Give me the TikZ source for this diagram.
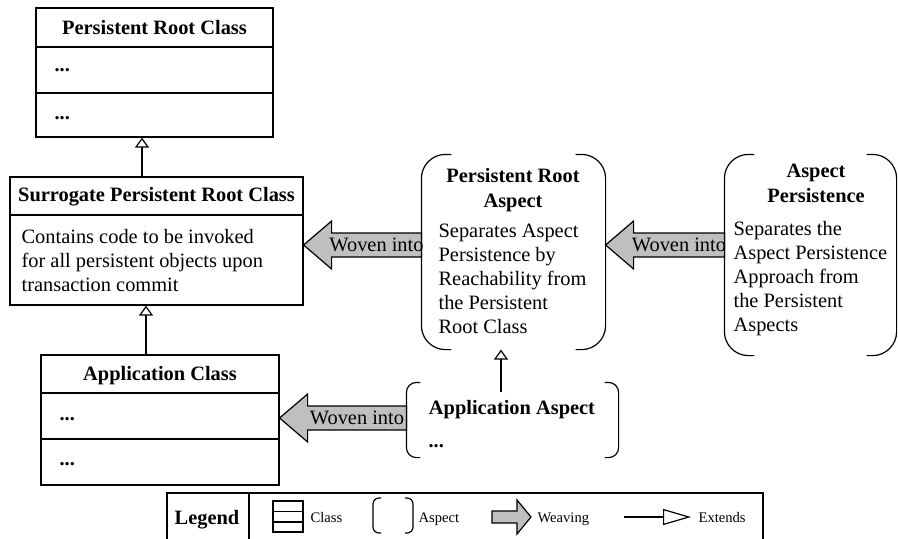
\documentclass[tikz,border=0pt]{standalone}
\usepackage{fontspec}
\setmainfont{Liberation Serif}
\usetikzlibrary{arrows.meta,calc}
\tikzset{
	classbox/.style={draw,inner sep=0pt},
	aspbox/.style={inner sep=0pt},
	ext/.style={-{Triangle[open,length=5pt,width=7pt]}},
	weave/.style={draw,fill=gray!50},
	txt/.style={inner sep=0pt,align=left,font=\fontsize{10.2}{12}\selectfont},
	ttl/.style={inner sep=0pt,align=center,font=\fontsize{10.2}{12.5}\selectfont\bfseries},
	lbl/.style={inner sep=0pt,font=\fontsize{7.3}{8.5}\selectfont}
}
\newcommand{\aspectframe}[3]{%
	\draw[rounded corners=#2] ([xshift=#3]#1.north west) -- (#1.north west) -- (#1.south west) -- ([xshift=#3]#1.south west);
	\draw[rounded corners=#2] ([xshift=-#3]#1.north east) -- (#1.north east) -- (#1.south east) -- ([xshift=-#3]#1.south east);}
\newcommand{\weave}[4]{%
	\coordinate (#4y) at (0,#3);
	\coordinate (#4t) at (#1.east |- #4y);
	\coordinate (#4s) at (#2.west |- #4y);
	\draw[weave] (#4t) -- ++(28,-24) -- ++(0,12) -- ($(#4s)+(0,-12)$) -- ($(#4s)+(0,12)$) -- ($(#4t)+(28,12)$) -- ($(#4t)+(28,24)$) -- cycle;
	\node[txt] (#4) at ($(#4t)!0.5!(#4s)+(14,0)$) {Woven into};}
\begin{document}
\begin{tikzpicture}[x=0.5pt,y=-0.5pt,line width=0.6pt]
			\useasboundingbox (0,0) rectangle (898,538);
			\node[classbox,minimum width=118.5pt,minimum height=64.5pt] (prc) at (154.5,72.5) {};
			\node[classbox,minimum width=146.5pt,minimum height=64pt] (surr) at (156.5,241) {};
			\node[classbox,minimum width=119pt,minimum height=65pt] (appc) at (160,420) {};
			\node[aspbox,minimum width=91.5pt,minimum height=97pt] (pra) at (513.5,252) {};
			\node[aspbox,minimum width=85.5pt,minimum height=100pt] (ap) at (810.5,255) {};
			\node[aspbox,minimum width=105.5pt,minimum height=37pt] (appa) at (512.5,420) {};
			\aspectframe{pra}{12pt}{15pt}
			\aspectframe{ap}{12pt}{15pt}
			\aspectframe{appa}{5pt}{7pt}
			\foreach \y in {47,93} \draw (prc.west |- 0,\y) -- (prc.east |- 0,\y);
			\draw (surr.west |- 0,215) -- (surr.east |- 0,215);
			\foreach \y in {393,439} \draw (appc.west |- 0,\y) -- (appc.east |- 0,\y);
			\draw[ext] ([xshift=-7.25pt]surr.north) -- ([xshift=-7.25pt]surr.north |- prc.south);
			\draw[ext] ([xshift=-7pt]appc.north) -- ([xshift=-7pt]appc.north |- surr.south);
			\draw[ext] ([xshift=-5.75pt,yshift=-5pt]appa.north) -- ([xshift=-5.75pt]appa.north |- pra.south);
			\weave{surr}{pra}{245}{w1}
			\weave{pra}{ap}{245}{w2}
			\weave{appc}{appa}{418}{w3}
			\node[ttl,anchor=base] (prct) at (154.5,34) {Persistent Root Class};
			\node[txt,anchor=base west] (prcd1) at (54,71) {\textbf{...}};
			\node[txt,anchor=base west] (prcd2) at (54,119) {\textbf{...}};
			\node[ttl,anchor=base] (surrt) at (156.5,201) {Surrogate Persistent Root Class};
			\node[txt,anchor=north west] (surrb) at (21,229) {Contains code to be invoked\\for all persistent objects upon\\transaction commit};
			\node[ttl,anchor=base] (appct) at (160,380) {Application Class};
			\node[txt,anchor=base west] (appcd1) at (59,420) {\textbf{...}};
			\node[txt,anchor=base west] (appcd2) at (59,465) {\textbf{...}};
			\node[ttl,anchor=north] (prat) at (513,168) {Persistent Root\\Aspect};
			\node[txt,anchor=north west] (prab) at (438,223) {Separates Aspect\\Persistence by\\Reachability from\\the Persistent\\Root Class};
			\node[ttl,anchor=north] (apt) at (816,163) {Aspect\\Persistence};
			\node[txt,anchor=north west] (apb) at (733,221) {Separates the\\Aspect Persistence\\Approach from\\the Persistent\\Aspects};
			\node[ttl,anchor=base] (appat) at (512,414) {Application Aspect};
			\node[txt,anchor=base west] (appad) at (428,447) {\textbf{...}};
			\draw (167,541) |- (763,493) -- (763,541);
			\draw (249,493) -- (249,541);
			\node[ttl,anchor=base] (leg) at (207,524) {Legend};
			\draw (273,501) rectangle (303,532) (273,511.5) -- (303,511.5) (273,522) -- (303,522);
			\node[lbl,anchor=base west] (lcls) at (310,522) {Class};
			\draw[rounded corners=3pt] (381,498) -- (373,498) -- (373,533) -- (381,533);
			\draw[rounded corners=3pt] (405,498) -- (413,498) -- (413,533) -- (405,533);
			\node[lbl,anchor=base west] (lasp) at (418,522) {Aspect};
			\draw[weave] (492,511) -- (517,511) -- (517,500) -- (531,517) -- (517,534) -- (517,523) -- (492,523) -- cycle;
			\node[lbl,anchor=base west] (lwv) at (537,522) {Weaving};
			\draw[-{Triangle[open,length=14pt,width=8pt]}] (624,517) -- (691,517);
			\node[lbl,anchor=base west] (lext) at (698,522) {Extends};
\end{tikzpicture}
\end{document}
